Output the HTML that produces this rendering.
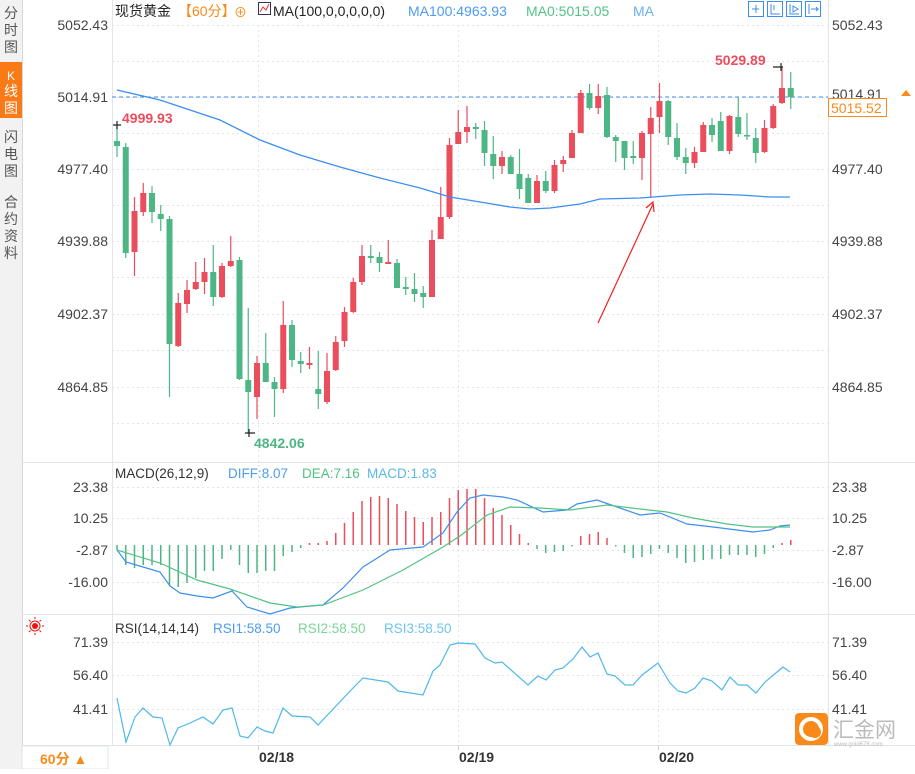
<!DOCTYPE html>
<html><head><meta charset="utf-8"><style>
body{margin:0;width:915px;height:769px;overflow:hidden;background:#fff;font-family:"Liberation Sans","Noto Sans CJK SC",sans-serif;}
svg text{font-family:"Liberation Sans","Noto Sans CJK SC",sans-serif;}
</style></head><body>
<svg id="s" width="915" height="769" xmlns="http://www.w3.org/2000/svg">
<rect x="0" y="0" width="22" height="769" fill="#f2f2f2"/>
<rect x="0" y="62" width="22" height="56" fill="#f97a17"/>
<line x1="22.5" y1="0" x2="22.5" y2="769" stroke="#d8d8d8"/>
<g font-size="14" fill="#555" text-anchor="middle">
<text x="11" y="18">分</text><text x="11" y="35">时</text><text x="11" y="52">图</text>
<text x="11" y="80" fill="#fff" font-size="12">K</text><text x="11" y="96" fill="#fff">线</text><text x="11" y="113" fill="#fff">图</text>
<text x="11" y="142">闪</text><text x="11" y="159">电</text><text x="11" y="176">图</text>
<text x="11" y="207">合</text><text x="11" y="224">约</text><text x="11" y="241">资</text><text x="11" y="258">料</text>
</g>
<line x1="112.5" y1="0" x2="112.5" y2="745" stroke="#e2e6ec"/>
<line x1="828.5" y1="0" x2="828.5" y2="745" stroke="#e2e6ec"/>
<line x1="22" y1="462.5" x2="915" y2="462.5" stroke="#e2e6ec"/>
<line x1="22" y1="614.5" x2="915" y2="614.5" stroke="#e2e6ec"/>
<line x1="22" y1="745.5" x2="915" y2="745.5" stroke="#dfe3ea"/>
<g id="grid" stroke="#e4e4e4" stroke-dasharray="2,3"></g>
<g font-size="14" fill="#444" text-anchor="end" id="lax"></g>
<g font-size="14" fill="#444" id="rax"></g>
<line x1="112" y1="97" x2="828" y2="97" stroke="#3d8ef0" stroke-dasharray="4,3"/>
<g id="cand"></g>
<polyline fill="none" stroke="#3d8ef0" stroke-width="1.3" points="117,90 160,100 220,120 260,140 300,155 340,167 380,178 420,188 450,197 480,202 510,207 530,209 550,208 580,204 600,199 640,198 680,195 710,194 740,195 770,197 790,197"/>
<text x="122" y="123" font-size="14" font-weight="bold" fill="#ea4d5c">4999.93</text>
<text x="254" y="448" font-size="14" font-weight="bold" fill="#4cb684">4842.06</text>
<text x="715" y="65" font-size="14" font-weight="bold" fill="#ea4d5c">5029.89</text>
<path d="M113,125h8M117,121v8M245,433h10M249,429v8M773,67h10M781,63v8" stroke="#222" stroke-width="1.2"/>
<line x1="598" y1="323" x2="653" y2="204" stroke="#f02020" stroke-width="1.2"/>
<path d="M646,208 L653,202 L654,212" fill="none" stroke="#f02020" stroke-width="1.2"/>
<rect x="828.5" y="98.5" width="58" height="18" fill="#fff" stroke="#f98a1a"/>
<text x="831" y="113" font-size="14" fill="#f98a1a">5015.52</text>
<path d="M901,96l5,-6l5,6z" fill="#f98a1a"/>
<g font-size="14">
<text x="115" y="16" fill="#222">现货黄金</text>
<text x="178" y="16" fill="#f98a1a">【60分】</text>
<text x="234" y="17" fill="#f98a1a" font-size="13">⊕</text>
<rect x="258.5" y="2.5" width="12" height="12" fill="#fff" stroke="#335"/>
<path d="M260,12l3,-5l3,3l3,-6" stroke="#e33" fill="none"/>
<text x="273" y="16" fill="#222">MA(100,0,0,0,0,0)</text>
<text x="408" y="16" fill="#4d9cf2">MA100:4963.93</text>
<text x="526" y="16" fill="#52c384">MA0:5015.05</text>
<text x="633" y="16" fill="#6ab0f0">MA</text>
</g>
<g stroke="#3d8ef0" fill="none">
<rect x="748.5" y="1.5" width="15" height="15"/><rect x="767.5" y="1.5" width="15" height="15"/><rect x="786.5" y="1.5" width="15" height="15"/><rect x="805.5" y="1.5" width="15" height="15"/>
<path d="M752,9h7M756,5v8M771,4v10h9M774,5v5M790,4v10h9M793,6l5,3l-5,3z M809,4v10M811,9h7l-2,-2M816,11l2,-2"/>
</g>
<g font-size="13.5">
<text x="115" y="478" fill="#333">MACD(26,12,9)</text>
<text x="228" y="478" fill="#4d9cf2">DIFF:8.07</text>
<text x="302" y="478" fill="#52c384">DEA:7.16</text>
<text x="367" y="478" fill="#5bb8e8">MACD:1.83</text>
<text x="115" y="633" fill="#333">RSI(14,14,14)</text>
<text x="213" y="633" fill="#4d9cf2">RSI1:58.50</text>
<text x="298" y="633" fill="#7bd39a">RSI2:58.50</text>
<text x="384" y="633" fill="#6cc6ee">RSI3:58.50</text>
</g>
<g id="macd"></g>
<polyline fill="none" stroke="#3d8ef0" stroke-width="1.2" points="117,550 126,562 143,567 160,572 170,586 180,593 197,596 213,598 232,591 247,607 270,614 290,608 310,606 323,605 343,588 363,567 390,550 423,547 443,533 457,512 470,498 483,495 503,497 517,500 543,512 567,510 577,504 597,500 620,508 640,515 660,513 687,524 713,527 753,532 770,530 780,526 790,525"/>
<polyline fill="none" stroke="#52c384" stroke-width="1.2" points="117,550 160,563 197,580 230,589 270,603 297,607 323,605 363,590 403,570 443,547 460,536 487,515 510,507 540,508 570,510 607,505 640,509 667,512 693,518 727,524 753,527 790,527"/>
<polyline fill="none" stroke="#4fb8ea" stroke-width="1.2" points="117,698 126,742 135,717 143,708 153,717 162,718 170,745 178,728 190,723 203,717 213,724 223,710 232,708 240,736 248,738 257,727 265,731 273,733 283,708 292,716 310,717 318,725 353,688 363,678 388,682 398,691 423,695 433,671 440,665 450,645 458,643 475,644 485,658 495,663 502,662 528,685 538,676 546,680 555,670 563,668 573,659 582,647 590,657 598,653 607,674 615,676 625,685 633,685 642,675 658,663 670,683 678,691 686,693 695,688 703,678 712,681 722,690 730,677 738,685 747,685 756,693 765,682 783,667 790,672"/>
<g transform="translate(35,626)"><circle r="3" fill="#e11"/><circle r="5" fill="none" stroke="#e11"/><path d="M0,-9v2M0,7v2M-9,0h2M7,0h2M-6,-6l1.5,1.5M4.5,4.5l1.5,1.5M-6,6l1.5,-1.5M4.5,-4.5l1.5,-1.5" stroke="#e11"/></g>
<rect x="22" y="746" width="86" height="23" fill="#fff" stroke="#dfe3ea"/>
<text x="40" y="764" font-size="14" font-weight="bold" fill="#f98a1a">60分 ▲</text>
<g font-size="14" font-weight="bold" fill="#333">
<text x="259" y="762">02/18</text><text x="459" y="762">02/19</text><text x="659" y="762">02/20</text>
</g>
<path d="M258.5,745v5M458.5,745v5M658.5,745v5" stroke="#ccc"/>
<rect x="795" y="713" width="33" height="32" rx="4" fill="#f98a1a"/>
<circle cx="811" cy="729" r="10" fill="none" stroke="#fff" stroke-width="4"/>
<circle cx="815" cy="732" r="6" fill="#f98a1a"/>
<text x="833" y="737" font-size="21" fill="#bbb">汇金网</text>
<text x="834" y="746" font-size="6" fill="#bbb">www.gold678.com</text>
</svg>
<script>
var NS="http://www.w3.org/2000/svg";
function el(p,t,a,txt){var e=document.createElementNS(NS,t);for(var k in a)e.setAttribute(k,a[k]);if(txt)e.textContent=txt;document.getElementById(p).appendChild(e);}
var hs=[25,61,97,133,169,205,241,277,314,350,387,423,487,518,550,582,642,675,709];
hs.forEach(function(y){el('grid','line',{x1:112,x2:828,y1:y+.5,y2:y+.5});});
[258,458,658].forEach(function(x){el('grid','line',{x1:x+.5,x2:x+.5,y1:25,y2:745});});
var L=[[25,"5052.43"],[97,"5014.91"],[169,"4977.40"],[241,"4939.88"],[314,"4902.37"],[387,"4864.85"],[487,"23.38"],[518,"10.25"],[550,"-2.87"],[582,"-16.00"],[642,"71.39"],[675,"56.40"],[709,"41.41"]];
L.forEach(function(l){el('lax','text',{x:108,y:l[0]+5},l[1]);if(l[1]!="5014.91")el('rax','text',{x:832,y:l[0]+5},l[1]);else el('rax','text',{x:832,y:l[0]+2},l[1]);});
var C=[['g',141,146,125,157],['g',147,253,143,258],['r',211,252,197,276],['r',193,212,183,216],['g',193,212,186,223],['g',214,219,205,231],['g',219,344,216,397],['r',303,346,293,347],['r',290,304,280,313],['r',282,289,262,290],['r',272,282,258,294],['g',272,297,245,306],['r',266,297,263,298],['r',261,266,236,267],['g',260,379,257,380],['g',380,392,308,433],['r',363,397,356,419],['g',363,382,333,382],['g',382,389,377,417],['r',325,389,301,393],['g',325,360,320,367],['g',361,364,352,373],['r',363,365,347,369],['g',389,394,351,409],['r',371,402,353,404],['r',342,370,336,371],['r',312,341,307,347],['r',282,312,278,313],['r',256,282,245,285],['g',256,258,245,263],['g',257,263,252,272],['r',262,264,240,264],['g',263,288,259,288],['g',287,289,277,295],['g',289,294,273,302],['g',293,297,286,308],['r',240,297,230,297],['r',217,239,187,239],['r',145,217,138,219],['r',132,144,110,144],['r',127,132,106,143],['g',127,129,123,139],['g',130,153,121,166],['g',154,166,136,179],['r',157,166,151,174],['g',157,174,155,174],['g',174,189,149,199],['g',178,203,174,203],['r',181,203,175,203],['g',181,191,171,193],['r',165,191,160,193],['r',160,164,156,172],['r',133,158,130,158],['r',93,133,90,133],['g',93,108,84,110],['r',96,108,84,114],['g',95,137,87,138],['g',137,141,135,162],['g',141,158,141,170],['g',156,158,141,164],['r',133,158,131,180],['r',118,134,107,198],['r',101,117,83,133],['g',101,137,100,145],['g',138,157,123,160],['g',157,163,148,174],['r',152,163,147,168],['r',125,152,122,152],['g',125,135,118,142],['g',121,151,112,151],['r',116,151,115,154],['g',117,134,97,137],['g',135,136,113,140],['g',138,153,128,163],['r',128,152,120,153],['r',106,128,104,129],['r',88,103,67,104],['g',88,97,72,109]];
C.forEach(function(c,i){var x=117+i*8.75,col=c[0]=='r'?'#ea4d5c':'#4cb684';
el('cand','line',{x1:x,x2:x,y1:c[3],y2:c[4],stroke:col,'stroke-width':1.2});
el('cand','rect',{x:x-3,y:c[1],width:6,height:Math.max(1.5,c[2]-c[1]),fill:col});});
var M=[550,565,568,565,565,565,585,587,583,578,571,571,559,550,565,573,573,571,571,556,552,548,543,543,541,533,523,512,501,497,496,498,504,511,517,522,517,512,498,490,489,489,498,508,515,525,534,543,549,553,552,551,546,536,534,532,538,546,553,558,557,554,549,553,558,563,562,560,559,559,555,555,555,557,554,548,543,540];
M.forEach(function(v,i){var x=117+i*8.75,z=545,col=v<z?'#ea4d5c':'#4cb684';
el('macd','line',{x1:x,x2:x,y1:z,y2:(Math.abs(v-z)<1.5?z+(v<z?-1.5:1.5):v),stroke:col,'stroke-width':1.5});});
</script>
</body></html>
